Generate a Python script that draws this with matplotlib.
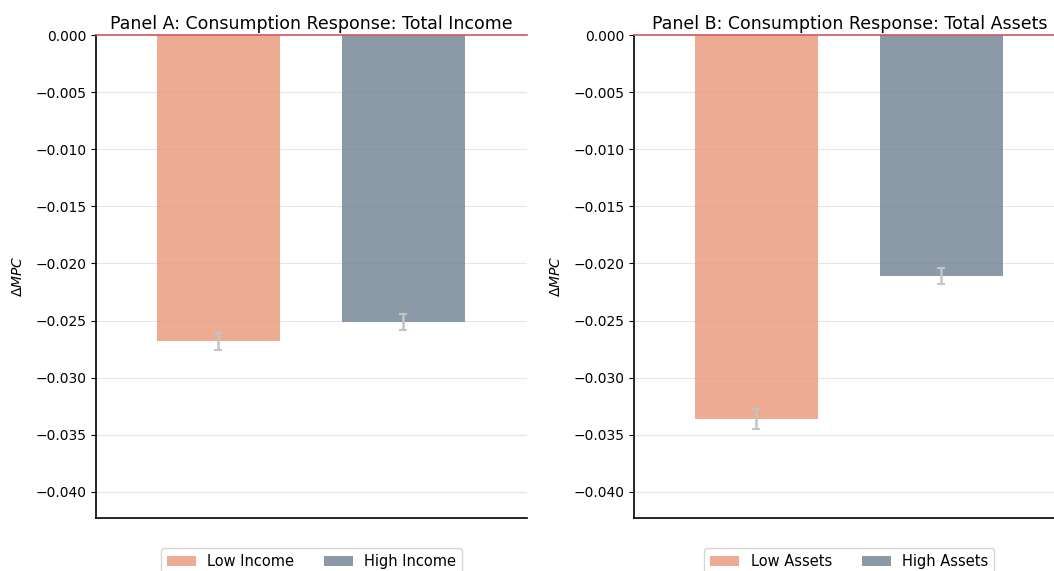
import numpy as np
import matplotlib
matplotlib.use('Agg')
import matplotlib.pyplot as plt

# Change in MPC by group, with standard errors
income_groups = ['Low Income', 'High Income']
income_dmpc = [-0.0268, -0.0251]
income_se = [0.00075, 0.0007]

asset_groups = ['Low Assets', 'High Assets']
asset_dmpc = [-0.0336, -0.0211]
asset_se = [0.0009, 0.0007]

colors = ['darksalmon', 'slategray']

fig = plt.figure(figsize=(10.54, 5.71), dpi=100)
ax_a = fig.add_axes([0.0911, 0.0928, 0.4089, 0.8459])
ax_b = fig.add_axes([0.6015, 0.0928, 0.4089, 0.8459])


def draw_panel(ax, groups, values, errors, title):
    x = np.arange(len(groups))
    for i in range(len(groups)):
        ax.bar(x[i], values[i], width=0.665, color=colors[i], alpha=0.8,
               linewidth=0, label=groups[i], zorder=2)
    ax.errorbar(x, values, yerr=errors, fmt='none', ecolor='#c4c4c4',
                elinewidth=1.8, capsize=3, capthick=1.5, zorder=3)
    ax.axhline(0, color='indianred', linewidth=1.2, zorder=4, clip_on=False)
    ax.set_xlim(-0.662, 1.668)
    ax.set_ylim(-0.04228, 0)
    ax.set_yticks(np.arange(-0.040, 0.0001, 0.005))
    ax.set_xticks([])
    ax.yaxis.grid(True, color='#e6e6e6', linewidth=0.8, zorder=0)
    ax.set_axisbelow(True)
    ax.spines['top'].set_visible(False)
    ax.spines['right'].set_visible(False)
    ax.spines['left'].set_linewidth(1.2)
    ax.spines['bottom'].set_linewidth(1.2)
    ax.tick_params(axis='y', labelsize=10)
    ax.set_ylabel(r'$\Delta MPC$', fontsize=10, labelpad=7)
    ax.set_title(title, fontsize=12.5, pad=4)
    ax.legend(loc='upper center', bbox_to_anchor=(0.5, -0.062), ncol=2,
              fontsize=10.5, borderaxespad=0, frameon=True, columnspacing=2.0)


draw_panel(ax_a, income_groups, income_dmpc, income_se,
           'Panel A: Consumption Response: Total Income')
draw_panel(ax_b, asset_groups, asset_dmpc, asset_se,
           'Panel B: Consumption Response: Total Assets')

fig.savefig('out.png', dpi=100)
